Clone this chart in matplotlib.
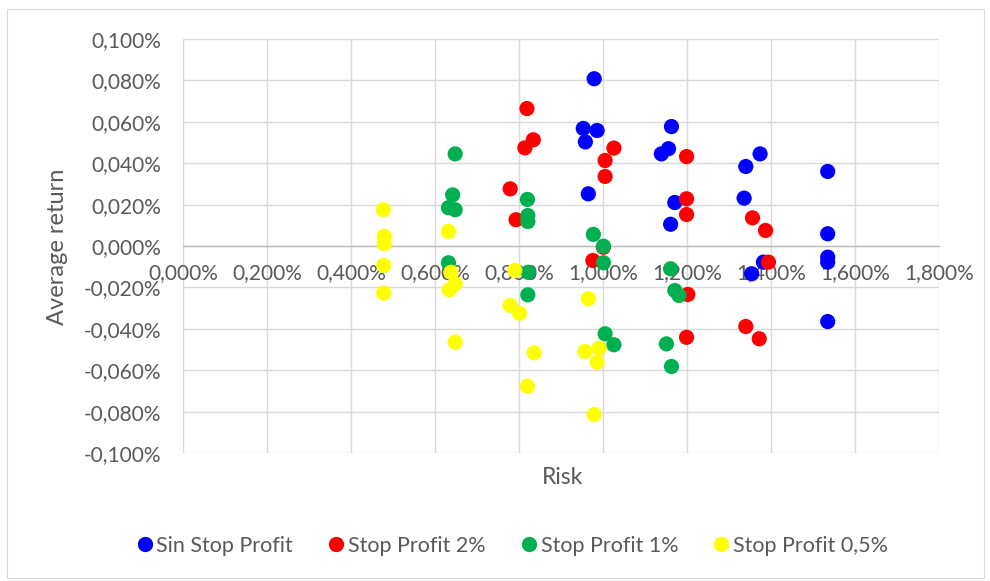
import matplotlib
matplotlib.use("Agg")
import matplotlib.pyplot as plt
from matplotlib.patches import Rectangle
from matplotlib.ticker import FuncFormatter
from matplotlib.lines import Line2D

plt.rcParams['font.family'] = ['Lato', 'DejaVu Sans']

series_names = ["Sin Stop Profit", "Stop Profit 2%", "Stop Profit 1%", "Stop Profit 0,5%"]
series_colors = ["#0000FF", "#FF0000", "#00B050", "#FFFF00"]

# Risk (%) and average return (%) per series
sin_risk = [0.979, 0.953, 0.986, 0.958, 0.965, 1.163, 1.156, 1.139, 1.171, 1.161,
            1.340, 1.374, 1.336, 1.382, 1.354, 1.535, 1.535, 1.535, 1.535, 1.535]
sin_ret = [0.0808, 0.0568, 0.0558, 0.0503, 0.0252, 0.0577, 0.0470, 0.0445, 0.0210, 0.0105,
           0.0384, 0.0445, 0.0231, -0.0078, -0.0134, 0.0360, 0.0059, -0.0054, -0.0078, -0.0365]

sp2_risk = [0.819, 0.834, 0.814, 0.779, 0.793, 1.026, 1.005, 1.005, 0.976, 1.001,
            1.199, 1.199, 1.199, 1.202, 1.199, 1.340, 1.372, 1.356, 1.387, 1.394]
sp2_ret = [0.0664, 0.0513, 0.0474, 0.0276, 0.0127, 0.0473, 0.0413, 0.0336, -0.0070, -0.0006,
           0.0432, 0.0228, 0.0152, -0.0234, -0.0441, -0.0389, -0.0448, 0.0136, 0.0075, -0.0078]

sp1_risk = [0.648, 0.642, 0.632, 0.648, 0.632, 0.820, 0.821, 0.821, 0.822, 0.821,
            0.977, 1.001, 1.001, 1.005, 1.026, 1.161, 1.171, 1.181, 1.151, 1.163]
sp1_ret = [0.0445, 0.0247, 0.0185, 0.0175, -0.0081, 0.0225, 0.0147, 0.0118, -0.0127, -0.0236,
           0.0056, -0.0001, -0.0081, -0.0424, -0.0477, -0.0110, -0.0215, -0.0239, -0.0473, -0.0582]

sp05_risk = [0.477, 0.479, 0.479, 0.478, 0.478, 0.632, 0.638, 0.648, 0.634, 0.648,
             0.790, 0.779, 0.801, 0.836, 0.820, 0.965, 0.957, 0.991, 0.986, 0.979]
sp05_ret = [0.0175, 0.0046, 0.0011, -0.0094, -0.0228, 0.0070, -0.0127, -0.0183, -0.0212, -0.0465,
            -0.0118, -0.0287, -0.0325, -0.0516, -0.0677, -0.0255, -0.0510, -0.0494, -0.0561, -0.0814]

x_ticks = [0.0, 0.2, 0.4, 0.6, 0.8, 1.0, 1.2, 1.4, 1.6, 1.8]
y_ticks = [-0.10, -0.08, -0.06, -0.04, -0.02, 0.0, 0.02, 0.04, 0.06, 0.08, 0.10]

W, H = 990, 581
fig = plt.figure(figsize=(W / 100, H / 100), dpi=100)
fig.patch.set_facecolor("white")
fig.add_artist(Rectangle((7 / W, 1 - 578 / H), (984 - 7) / W, (578 - 9) / H,
                         transform=fig.transFigure, fill=False, edgecolor="#D9D9D9", lw=0.8))

ax = fig.add_axes([183 / W, 1 - 453 / H, (939 - 183) / W, (453 - 39) / H])

grid_c = "#D9D9D9"
text_c = "#595959"
for s in ["top", "right", "left"]:
    ax.spines[s].set_visible(False)
ax.spines["bottom"].set_position(("data", 0))
ax.spines["bottom"].set_color("#BFBFBF")
ax.spines["bottom"].set_linewidth(1.0)

ax.set_xlim(0, 1.8)
ax.set_ylim(-0.10, 0.10)
ax.set_xticks(x_ticks)
ax.set_yticks(y_ticks)
ax.grid(True, color=grid_c, lw=1.0, zorder=0)
ax.set_axisbelow(True)

fmt = FuncFormatter(lambda v, p: (f"{v:.3f}%").replace(".", ","))
ax.xaxis.set_major_formatter(fmt)
ax.yaxis.set_major_formatter(fmt)
ax.tick_params(axis="both", length=0, labelsize=15, labelcolor=text_c)
ax.tick_params(axis="x", pad=12)
ax.tick_params(axis="y", pad=16)

data = [(sin_risk, sin_ret), (sp2_risk, sp2_ret), (sp1_risk, sp1_ret), (sp05_risk, sp05_ret)]
handles = []
for (xr, yr), name, col in zip(data, series_names, series_colors):
    ax.scatter(xr, yr, s=120, color=col, edgecolors="none", zorder=3, clip_on=False)
    handles.append(Line2D([], [], marker="o", linestyle="none", markersize=11,
                          markerfacecolor=col, markeredgecolor="none", label=name))

fig.text(563 / W, 1 - 477 / H, "Risk", ha="center", va="center", fontsize=16.5, color=text_c)
fig.text(58 / W, 1 - 247 / H, "Average return", ha="center", va="center", rotation=90,
         fontsize=17, color=text_c)

fig.legend(handles=handles, loc="center", bbox_to_anchor=(511 / W, 1 - 546 / H), ncol=4,
           frameon=False, fontsize=15.5, labelcolor=text_c, handletextpad=0.05,
           columnspacing=1.5, handlelength=1.0)

fig.savefig("out.png", dpi=100)
